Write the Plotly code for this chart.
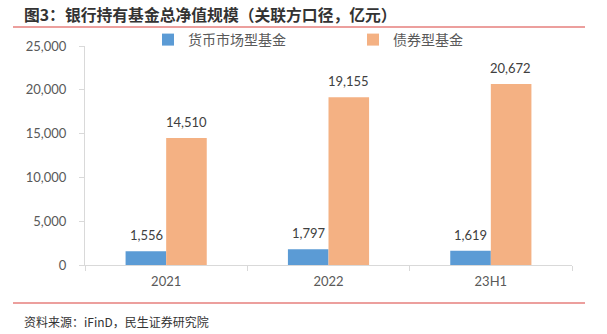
import plotly.graph_objects as go

# Bank-held fund net asset value (related-party basis, 100m CNY)
periods = ["2021", "2022", "23H1"]
money_market = [1556, 1797, 1619]
bond_funds = [14510, 19155, 20672]
series_names = ["货币市场型基金", "债券型基金"]
y_ticks = [0, 5000, 10000, 15000, 20000, 25000]

W, H = 607, 334
BASE_FONT = "Lato, 'Noto Sans CJK SC', sans-serif"
CJK_FONT = "'Noto Sans CJK SC', sans-serif"
SERIES = [(series_names[0], money_market, "#5B9BD5", -20),
          (series_names[1], bond_funds, "#F4B183", 20)]

fig = go.Figure()
for name, vals, color, _ in SERIES:
    fig.add_trace(go.Bar(
        x=periods, y=vals, name=name,
        marker=dict(color=color, line=dict(width=0)),
        cliponaxis=False,
    ))

# value labels sit above each bar, centred on its half of the group;
# category positions are given by index so "2021" is not read as a number
value_labels = []
for _, vals, _, shift in SERIES:
    for idx, v in enumerate(vals):
        value_labels.append(dict(
            text=f"{v:,}", x=idx, y=v, xref="x", yref="y",
            xshift=shift, yshift=16, xanchor="center", yanchor="middle",
            showarrow=False,
            font=dict(family=BASE_FONT, size=13, color="#404040"),
        ))

fig.update_layout(
    template="none",
    width=W, height=H,
    margin=dict(l=0, r=0, t=0, b=0, pad=0, autoexpand=False),
    paper_bgcolor="white", plot_bgcolor="white",
    barmode="group", bargap=0.5, bargroupgap=0,
    font=dict(family=BASE_FONT, size=13, color="#595959"),
    showlegend=True,
    legend=dict(
        orientation="h", x=148 / W, y=1 - 40 / H, xanchor="left", yanchor="middle",
        entrywidth=160, entrywidthmode="pixels", itemwidth=30,
        font=dict(family=CJK_FONT, size=14, color="#595959"),
        bgcolor="rgba(0,0,0,0)",
    ),
    xaxis=dict(
        type="category", range=[-0.5, len(periods) - 0.5],
        domain=[85 / W, 572 / W], automargin=False,
        showline=True, linecolor="#D9D9D9", linewidth=1,
        ticks="outside", tickson="boundaries", ticklen=5, tickcolor="#D9D9D9",
        ticklabelstandoff=4,
        tickfont=dict(size=13, color="#595959", family=BASE_FONT),
        showgrid=False, zeroline=False, fixedrange=True,
    ),
    yaxis=dict(
        domain=[1 - 265 / H, 1 - 46 / H], automargin=False,
        range=[0, 25000], tickvals=y_ticks, tickformat=",",
        showline=True, linecolor="#D9D9D9", linewidth=1,
        ticks="outside", ticklen=5, tickcolor="#D9D9D9",
        ticklabelstandoff=10,
        tickfont=dict(size=13, color="#595959", family=BASE_FONT),
        showgrid=False, zeroline=False, fixedrange=True,
    ),
    shapes=[
        dict(type="line", xref="paper", yref="paper", x0=13 / W, x1=585 / W,
             y0=1 - 27 / H, y1=1 - 27 / H, line=dict(color="#D9403C", width=1.2)),
        dict(type="line", xref="paper", yref="paper", x0=13 / W, x1=585 / W,
             y0=1 - 303 / H, y1=1 - 303 / H, line=dict(color="#D9403C", width=1.2)),
    ],
    annotations=[
        dict(text="<b>图3：银行持有基金总净值规模（关联方口径，亿元）</b>",
             xref="paper", yref="paper", x=22 / W, y=1 - 15 / H,
             xanchor="left", yanchor="middle", showarrow=False,
             font=dict(family=CJK_FONT, size=15.8, color="#333333")),
        dict(text="资料来源：iFinD，民生证券研究院",
             xref="paper", yref="paper", x=22 / W, y=1 - 321 / H,
             xanchor="left", yanchor="middle", showarrow=False,
             font=dict(family=CJK_FONT, size=12, color="#333333")),
    ] + value_labels,
)

fig.write_html("out.html")
